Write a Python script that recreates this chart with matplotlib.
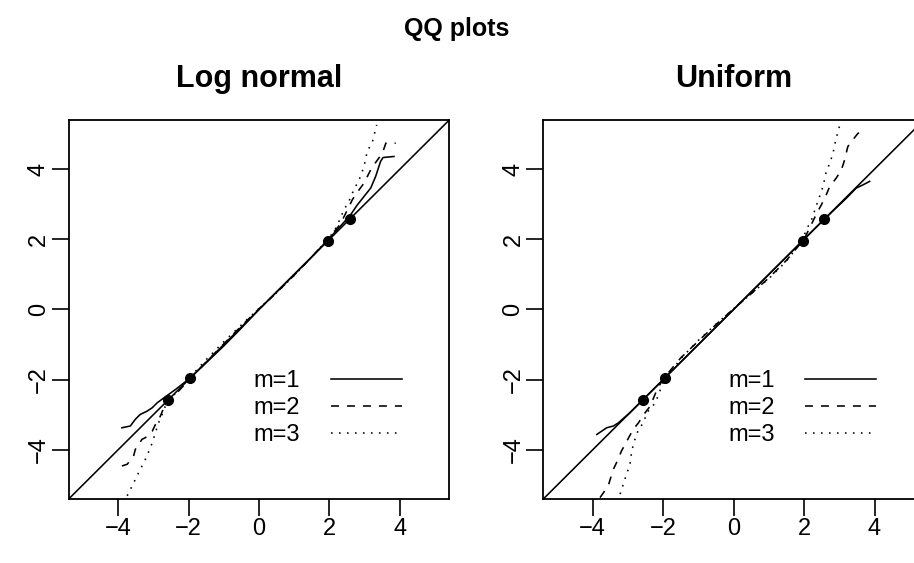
import matplotlib
matplotlib.use("Agg")
import matplotlib.pyplot as plt

plt.rcParams["font.family"] = ["Liberation Sans", "DejaVu Sans"]

# Log normal panel: theoretical vs sample quantiles, m = 1, 2, 3
ln_m1_x = [-3.89, -3.65, -3.51, -3.37, -3.18, -3.03, -2.89, -2.70, -2.37, -1.95, -1.5, -1.0, -0.5, 0.0,
           0.5, 1.0, 1.5, 1.95, 2.30, 2.60, 2.79, 2.98, 3.17, 3.31, 3.45, 3.52, 3.83]
ln_m1_y = [-3.37, -3.32, -3.13, -2.99, -2.90, -2.80, -2.66, -2.52, -2.28, -1.95, -1.52, -1.04, -0.53, 0.0,
           0.50, 1.00, 1.50, 1.98, 2.36, 2.70, 2.98, 3.22, 3.46, 3.79, 4.22, 4.33, 4.36]
ln_m2_x = [-3.89, -3.74, -3.56, -3.51, -3.32, -3.22, -3.03, -2.94, -2.80, -2.70, -2.40, -1.95, -1.5, -1.0,
           -0.5, 0.0, 0.5, 1.0, 1.5, 1.95, 2.30, 2.51, 2.65, 2.84, 2.98, 3.17, 3.26, 3.50, 3.60, 3.88]
ln_m2_y = [-4.46, -4.41, -4.18, -3.99, -3.70, -3.65, -3.47, -3.28, -3.04, -2.80, -2.45, -1.97, -1.50, -0.98,
           -0.47, 0.02, 0.48, 0.98, 1.50, 2.00, 2.42, 2.84, 3.13, 3.41, 3.60, 3.98, 4.12, 4.45, 4.74, 4.74]
ln_m3_x = [-3.74, -3.60, -3.46, -3.32, -3.18, -3.03, -2.94, -2.85, -2.75, -2.66, -2.40, -2.0, -1.5, -1.0,
           -0.5, 0.0, 0.5, 1.0, 1.5, 2.0, 2.2, 2.41, 2.55, 2.69, 2.84, 2.98, 3.07, 3.22, 3.34]
ln_m3_y = [-5.31, -5.03, -4.74, -4.46, -4.18, -3.80, -3.51, -3.23, -2.99, -2.76, -2.42, -1.98, -1.43, -0.92,
           -0.44, 0.03, 0.48, 0.97, 1.50, 2.05, 2.35, 2.84, 3.08, 3.41, 3.69, 4.07, 4.50, 4.78, 5.26]

# Uniform panel
un_m1_x = [-3.88, -3.60, -3.41, -3.27, -2.94, -2.5, -2.0, -1.5, -1.0, -0.5, 0.0, 0.5, 1.0, 1.5, 2.0,
           2.5, 3.0, 3.20, 3.48, 3.67, 3.86]
un_m1_y = [-3.56, -3.37, -3.32, -3.23, -2.94, -2.50, -2.0, -1.50, -1.0, -0.50, 0.0, 0.5, 1.0, 1.50, 2.0,
           2.50, 2.98, 3.17, 3.46, 3.55, 3.65]
un_m2_x = [-3.79, -3.56, -3.41, -3.32, -3.18, -3.03, -2.85, -2.70, -2.51, -2.37, -2.18, -2.0, -1.5, -1.0,
           -0.5, 0.0, 0.5, 1.0, 1.5, 2.0, 2.39, 2.49, 2.63, 2.73, 2.91, 3.06, 3.15, 3.24, 3.34, 3.53, 3.72]
un_m2_y = [-5.36, -5.03, -4.55, -4.36, -4.03, -3.75, -3.42, -3.23, -2.94, -2.76, -2.30, -1.98, -1.38, -0.90,
           -0.43, 0.02, 0.45, 0.90, 1.40, 2.0, 2.80, 2.98, 3.27, 3.51, 3.74, 3.98, 4.26, 4.64, 4.78, 5.02, 5.07]
un_m3_x = [-3.22, -3.13, -3.04, -2.94, -2.89, -2.80, -2.70, -2.56, -2.46, -2.22, -2.0, -1.5, -1.0, -0.5,
           0.0, 0.5, 1.0, 1.5, 1.92, 2.11, 2.21, 2.39, 2.54, 2.63, 2.73, 2.82, 2.91, 2.99, 3.03]
un_m3_y = [-5.26, -4.98, -4.70, -4.41, -4.03, -3.70, -3.42, -3.23, -2.94, -2.66, -2.08, -1.40, -0.88, -0.42,
           0.02, 0.45, 0.88, 1.38, 1.93, 2.36, 2.55, 3.08, 3.51, 3.93, 4.17, 4.45, 4.88, 5.16, 5.35]

# normal quantiles at 97.5% and 99.5%
ref_pts = [-2.576, -1.96, 1.96, 2.576]

panels = [
    ("Log normal", [(ln_m1_x, ln_m1_y), (ln_m2_x, ln_m2_y), (ln_m3_x, ln_m3_y)]),
    ("Uniform", [(un_m1_x, un_m1_y), (un_m2_x, un_m2_y), (un_m3_x, un_m3_y)]),
]
labels = ["m=1", "m=2", "m=3"]
ticks = [-4, -2, 0, 2, 4]
lims = (-5.4, 5.4)

lw = 1.15
styles = ["-", (0, (5, 5)), (0, (1, 4))]

fig = plt.figure(figsize=(9.14, 5.63), dpi=100)
fig.text(0.5, 0.936, "QQ plots", ha="center", va="baseline", fontsize=18, fontweight="bold")

lefts = [68.7 / 914, 543.3 / 914]
for (title, curves), left in zip(panels, lefts):
    ax = fig.add_axes([left, 0.1137, 0.4164, 0.6732])
    ax.set_xlim(lims)
    ax.set_ylim(lims)
    ax.axline((0, 0), slope=1, color="black", lw=lw)
    handles = []
    for (xs, ys), ls in zip(curves, styles):
        h, = ax.plot(xs, ys, color="black", lw=lw, linestyle=ls)
        handles.append(h)
    ax.plot(ref_pts, ref_pts, "o", color="black", ms=7)
    ax.set_xticks(ticks)
    ax.set_yticks(ticks)
    ax.tick_params(direction="out", length=12.5, width=1.2, labelsize=17, pad=1)
    ax.tick_params(axis="y", labelrotation=90)
    for lbl in ax.get_yticklabels():
        lbl.set_va("center")
    for sp in ax.spines.values():
        sp.set_linewidth(1.3)
    ax.set_title(title, fontsize=22, fontweight="bold", pad=24)
    ax.legend(handles, labels, loc="upper right", bbox_to_anchor=(4.05, -1.72), bbox_transform=ax.transData,
              frameon=False, markerfirst=False, fontsize=17, handlelength=3.0, handletextpad=1.3,
              labelspacing=0.22, borderpad=0, borderaxespad=0)

fig.savefig("out.png", dpi=100)
